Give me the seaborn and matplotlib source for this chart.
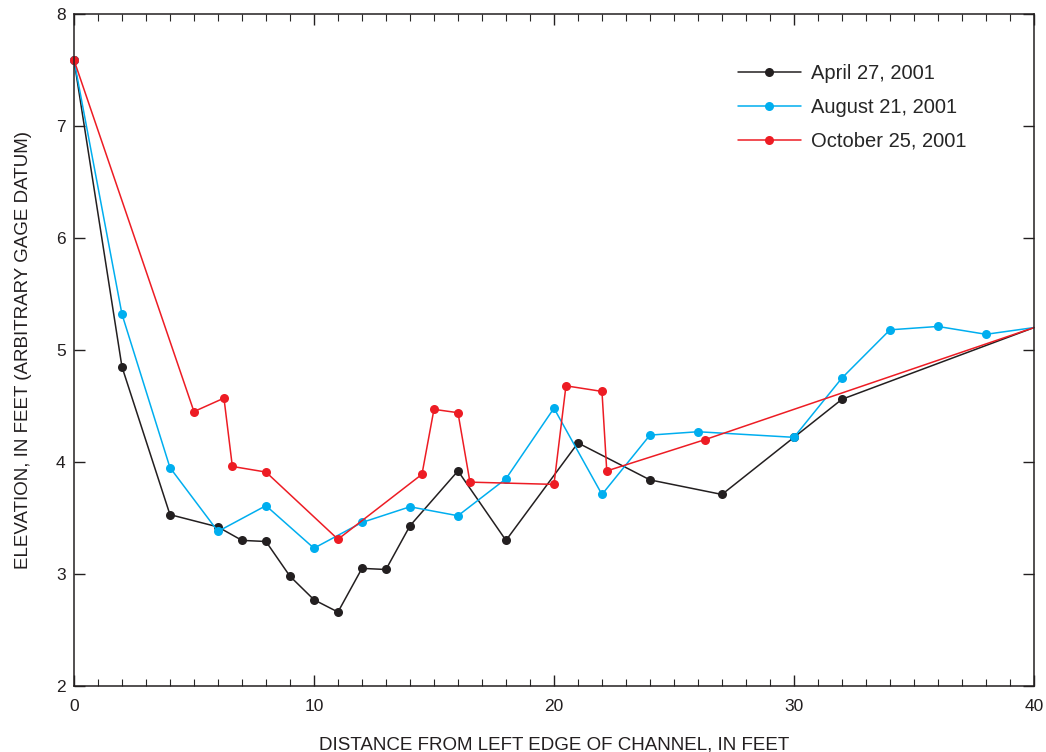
import matplotlib
matplotlib.use("Agg")
import matplotlib.pyplot as plt
import seaborn as sns
import pandas as pd
from matplotlib.ticker import MultipleLocator

# survey values
april_x = [0, 2, 4, 6, 7, 8, 9, 10, 11, 12, 13, 14, 16, 18, 21, 24, 27, 30, 32, 40]
april_y = [7.59, 4.85, 3.53, 3.42, 3.30, 3.29, 2.98, 2.77, 2.66, 3.05, 3.04, 3.43,
           3.92, 3.30, 4.17, 3.84, 3.71, 4.22, 4.56, 5.20]

august_x = [0, 2, 4, 6, 8, 10, 12, 14, 16, 18, 20, 22, 24, 26, 30, 32, 34, 36, 38, 40]
august_y = [7.59, 5.32, 3.95, 3.38, 3.61, 3.23, 3.46, 3.60, 3.52, 3.85, 4.48, 3.71,
            4.24, 4.27, 4.22, 4.75, 5.18, 5.21, 5.14, 5.20]

october_x = [0, 5, 6.25, 6.6, 8, 11, 14.5, 15, 16, 16.5, 20, 20.5, 22, 22.2, 26.3, 40]
october_y = [7.59, 4.45, 4.57, 3.96, 3.91, 3.31, 3.89, 4.47, 4.44, 3.82, 3.80, 4.68,
             4.63, 3.92, 4.20, 5.20]

labels = ["April 27, 2001", "August 21, 2001", "October 25, 2001"]
colors = ["#231f20", "#00aeef", "#ed1c24"]

sns.set_style("ticks")
plt.rcParams["font.family"] = ["Liberation Sans", "DejaVu Sans"]

fig = plt.figure(figsize=(10.46, 7.52), dpi=100)
ax = fig.add_axes([0.0707, 0.0878, 0.9178, 0.8936])

for xs, ys, lab, col in zip([april_x, august_x, october_x],
                            [april_y, august_y, october_y], labels, colors):
    df = pd.DataFrame({"x": xs, "y": ys})
    sns.lineplot(data=df, x="x", y="y", ax=ax, color=col, label=lab,
                 estimator=None, sort=False, linewidth=1.1, marker="o",
                 markersize=6.5, markeredgewidth=0, clip_on=False,
                 markevery=list(range(len(xs) - 1)))

ax.set_xlim(0, 40)
ax.set_ylim(2, 8)
ax.xaxis.set_major_locator(MultipleLocator(10))
ax.xaxis.set_minor_locator(MultipleLocator(1))
ax.yaxis.set_major_locator(MultipleLocator(1))
ax.tick_params(axis="x", which="major", direction="in", length=8, width=1,
               top=True, bottom=True, labelsize=12.5, pad=9.5, colors="#231f20")
ax.tick_params(axis="x", which="minor", direction="in", length=5, width=0.8,
               top=True, bottom=True)
ax.tick_params(axis="y", which="major", direction="in", length=8, width=1,
               left=True, right=True, labelsize=12.5, pad=6, colors="#231f20")
for sp in ax.spines.values():
    sp.set_linewidth(1.1)
    sp.set_color("#231f20")

ax.set_xlabel("DISTANCE FROM LEFT EDGE OF CHANNEL, IN FEET", fontsize=13.5,
              labelpad=16, color="#231f20")
ax.set_ylabel("ELEVATION, IN FEET (ARBITRARY GAGE DATUM)", fontsize=13.5,
              labelpad=17, color="#231f20")

leg = ax.legend(loc="upper left", bbox_to_anchor=(0.673, 0.953), frameon=False,
                fontsize=14.5, handlelength=3.1, labelspacing=0.75,
                handletextpad=0.5, markerscale=1.0)

fig.savefig("out.png", dpi=100)
